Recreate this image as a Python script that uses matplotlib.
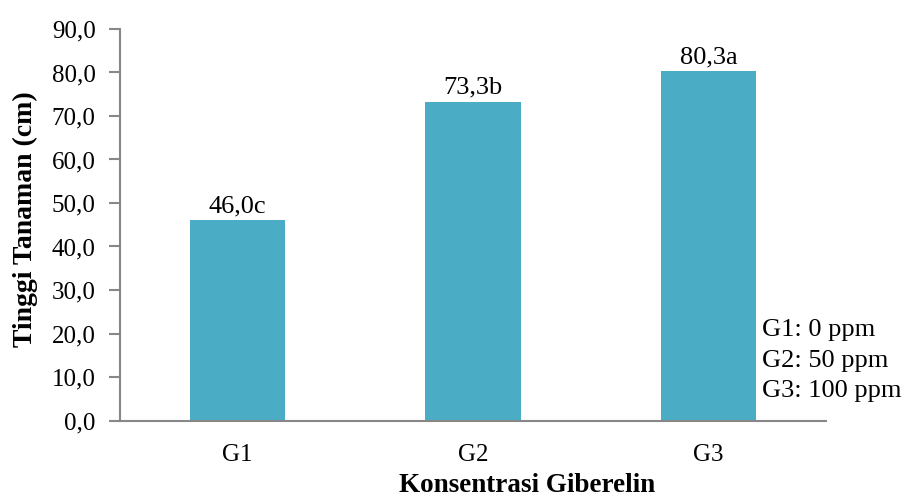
import matplotlib
matplotlib.use("Agg")
import matplotlib.pyplot as plt

categories = ["G1", "G2", "G3"]
heights = [46.0, 73.3, 80.3]
letters = ["c", "b", "a"]
y_ticks = [0, 10, 20, 30, 40, 50, 60, 70, 80, 90]
notes = ["G1: 0 ppm", "G2: 50 ppm", "G3: 100 ppm"]

plt.rcParams["font.family"] = ["Liberation Serif", "DejaVu Serif"]

W, H = 905, 498
fig = plt.figure(figsize=(W / 100, H / 100), dpi=100)
ax = fig.add_axes([120 / W, 1 - 420.5 / H, 706 / W, (420.5 - 29) / H])

x = list(range(len(categories)))
ax.bar(x, heights, width=0.404, color="#4BACC6", zorder=2)
ax.set_xlim(-0.5, 2.5)
ax.set_ylim(0, 90)
ax.set_yticks(y_ticks)
ax.set_yticklabels([f"{v:.1f}".replace(".", ",") for v in y_ticks])
ax.set_xticks(x)
ax.set_xticklabels(categories)

for xi, h, l in zip(x, heights, letters):
    ax.annotate(f"{h:.1f}".replace(".", ",") + l, (xi, h), xytext=(0, 2),
                textcoords="offset points", ha="center", va="bottom",
                fontsize=19)

gray = "#878787"
for s in ["top", "right"]:
    ax.spines[s].set_visible(False)
for s in ["left", "bottom"]:
    ax.spines[s].set_color(gray)
    ax.spines[s].set_linewidth(1.5)
ax.tick_params(axis="y", direction="out", length=8, width=1.5, color=gray,
               labelsize=18, pad=9.5)
ax.tick_params(axis="x", length=0, labelsize=18, pad=17)

fig.text(25 / W, 1 - 219.5 / H, "Tinggi Tanaman (cm)", rotation=90,
         ha="center", va="center", fontsize=20, fontweight="bold")
fig.text(527 / W, 1 - 492 / H, "Konsentrasi Giberelin", ha="center",
         va="baseline", fontsize=19.5, fontweight="bold")

for i, note in enumerate(notes):
    fig.text(762 / W, 1 - (336 + 30.5 * i) / H, note, ha="left",
             va="baseline", fontsize=19)

fig.savefig("out.png", dpi=100)
